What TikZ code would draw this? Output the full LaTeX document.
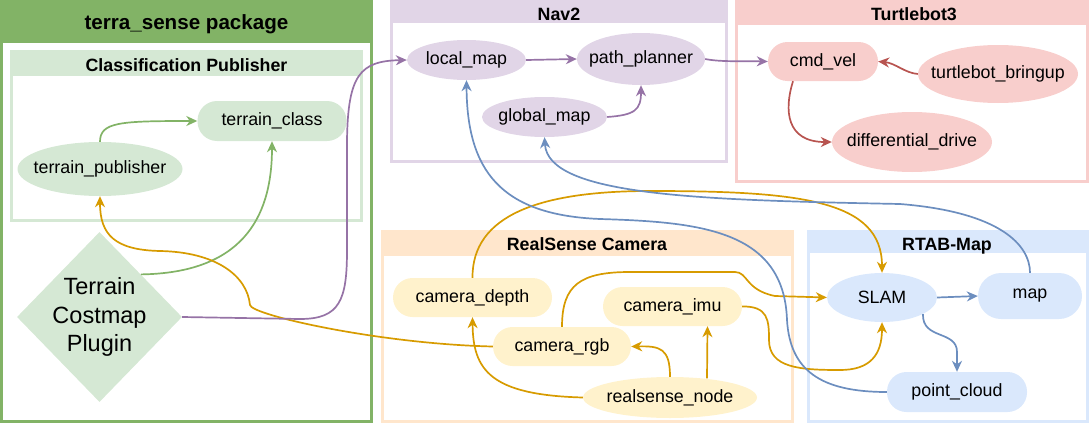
\documentclass[tikz,border=0pt]{standalone}
\usepackage{fontspec}
\setmainfont{Liberation Sans}
\usepackage{tikz}
\usetikzlibrary{shapes.geometric,arrows.meta,calc}

\definecolor{greenfill}{HTML}{D5E8D4}
\definecolor{greenline}{HTML}{82B366}
\definecolor{purplefill}{HTML}{E1D5E7}
\definecolor{purpleline}{HTML}{9673A6}
\definecolor{redfill}{HTML}{F8CECC}
\definecolor{redline}{HTML}{B85450}
\definecolor{orangefill}{HTML}{FFE6CC}
\definecolor{orangeline}{HTML}{D79B00}
\definecolor{yellowfill}{HTML}{FFF2CC}
\definecolor{bluefill}{HTML}{DAE8FC}
\definecolor{blueline}{HTML}{6C8EBF}

\newcommand{\topicfont}{\fontsize{17.8}{21.4}\selectfont}
\newcommand{\lanefont}{\bfseries\fontsize{17.8}{21.4}\selectfont}
\newcommand{\pkgfont}{\bfseries\fontsize{20.6}{24.7}\selectfont}
\newcommand{\pluginfont}{\fontsize{23.5}{28.5}\selectfont}

\tikzstyle{lane} = [line width=3pt]
\tikzstyle{lanetitle} = [font=\lanefont, anchor=base]
\tikzstyle{topic} = [rectangle, rounded corners=19.5pt, inner sep=0pt, font=\topicfont, minimum height=39pt]
\tikzstyle{proc} = [ellipse, inner xsep=-12pt, inner ysep=0pt, font=\topicfont]
\tikzstyle{plugin} = [diamond, fill=greenfill, inner sep=-12pt, align=center, font=\pluginfont, minimum width=165pt, minimum height=170pt]
\tikzstyle{flow} = [-{Stealth[length=11pt, width=10pt, inset=3.5pt]}, line width=1.7pt]

\begin{document}
\begin{tikzpicture}[x=1pt, y=-1pt]
\useasboundingbox (0,0) rectangle (1089,423);

%% Containers %%
\draw[lane, draw=greenline] (1.5,1.5) rectangle (371.5,421.5);
\fill[greenline] (0,0) rectangle (373,43);
\node[lanetitle, font=\pkgfont] (terra_sense) at (186.5,29.5) {terra\_sense package};

\draw[lane, draw=greenfill] (11.5,51.5) rectangle (361.5,220.5);
\fill[greenfill] (10,50) rectangle (363,76);
\node[lanetitle] (classification) at (186.5,71) {Classification Publisher};

\draw[lane, draw=purplefill] (391.5,1.5) rectangle (726.5,161.5);
\fill[purplefill] (390,0) rectangle (728,23);
\node[lanetitle] (nav2) at (559,20) {Nav2};

\draw[lane, draw=redfill] (736.5,1.5) rectangle (1087.5,181.5);
\fill[redfill] (735,0) rectangle (1089,25);
\node[lanetitle] (turtlebot3) at (914,20.5) {Turtlebot3};

\draw[lane, draw=orangefill] (382.5,231.5) rectangle (792.5,421.5);
\fill[orangefill] (381,230) rectangle (794,256);
\node[lanetitle] (realsense) at (587,250.5) {RealSense Camera};

\draw[lane, draw=bluefill] (808.5,231.5) rectangle (1087.5,421.5);
\fill[bluefill] (807,230) rectangle (1089,253);
\node[lanetitle] (rtabmap) at (947,250) {RTAB-Map};

%% terra_sense nodes %%
\node[topic, fill=greenfill, minimum width=149pt, minimum height=40pt] (terrain_class) at (272,121) {terrain\_class};
\node[proc, fill=greenfill, minimum width=165pt, minimum height=54pt] (terrain_publisher) at (100,169) {terrain\_publisher};
\node[plugin] (costmap_plugin) at (99.5,317) {Terrain\\Costmap\\Plugin};

%% Nav2 nodes %%
\node[proc, fill=purplefill, minimum width=119pt, minimum height=40pt] (local_map) at (466.5,60) {local\_map};
\node[proc, fill=purplefill, minimum width=128pt, minimum height=52pt] (path_planner) at ($(local_map)+(174.5,-1)$) {path\_planner};
\node[proc, fill=purplefill, minimum width=125pt, minimum height=40pt] (global_map) at (544.5,117) {global\_map};

%% Turtlebot3 nodes %%
\node[topic, fill=redfill, minimum width=110pt] (cmd_vel) at (823,61.5) {cmd\_vel};
\node[proc, fill=redfill, minimum width=160pt, minimum height=58pt] (turtlebot_bringup) at (998,74) {turtlebot\_bringup};
\node[proc, fill=redfill, minimum width=160pt, minimum height=60pt] (differential_drive) at (912,142) {differential\_drive};

%% RealSense nodes %%
\node[topic, fill=yellowfill, minimum width=159pt] (camera_depth) at (472.5,297.5) {camera\_depth};
\node[topic, fill=yellowfill, minimum width=138pt] (camera_rgb) at ($(camera_depth)+(89.5,49)$) {camera\_rgb};
\node[topic, fill=yellowfill, minimum width=139pt] (camera_imu) at (672.5,306.5) {camera\_imu};
\node[proc, fill=yellowfill, minimum width=174pt, minimum height=41pt] (realsense_node) at (670,397.5) {realsense\_node};

%% RTAB-Map nodes %%
\node[proc, fill=bluefill, minimum width=110pt, minimum height=49pt] (SLAM) at (882,297.5) {SLAM};
\node[topic, fill=bluefill, minimum width=104pt, minimum height=46pt, rounded corners=23pt] (map) at (1030,296) {map};
\node[topic, fill=bluefill, minimum width=140pt, minimum height=40pt] (point_cloud) at (957,392) {point\_cloud};

%% Forbindelser %%
% green
\draw[flow, greenline] (terrain_publisher.north) .. controls (100,122) and (120,121) .. (terrain_class.west);
\draw[flow, greenline] (costmap_plugin.north east) .. controls (240,273) and (272,220) .. (terrain_class.south);

% orange
\draw[flow, orangeline] (camera_rgb.west) .. controls (380,344) and (251,315) .. (250,305) .. controls (247,275) and (215,252) .. (160,251) .. controls (115,250) and (100,235) .. (terrain_publisher.south);
\draw[flow, orangeline] (camera_depth.north) .. controls (472,215) and (540,191) .. (650,191) .. controls (800,191) and (882,200) .. (SLAM.north);
\draw[flow, orangeline] (camera_rgb.north) .. controls (562,285) and (580,272) .. (630,272) -- (735,272) .. controls (748,272) and (745,290) .. (775,296) -- (SLAM.west);
\draw[flow, orangeline] (camera_imu.east) .. controls (768,306) and (769,320) .. (769,340) .. controls (769,368) and (800,370) .. (840,370) .. controls (870,370) and (882,355) .. (SLAM.south);
\draw[flow, orangeline] (realsense_node.west) .. controls (490,395) and (473,370) .. (camera_depth.south);
\draw[flow, orangeline] (realsense_node.north) .. controls (670,348) and (660,346) .. (camera_rgb.east);
\draw[flow, orangeline] ($(realsense_node.north)+(37,1.5)$) -- ($(camera_imu.south)+(35,0)$);

% purple
\draw[flow, purpleline] (costmap_plugin.east) -- (300,319) .. controls (340,319) and (347,300) .. (347,250) -- (347,140) .. controls (348,75) and (360,61) .. (local_map.west);
\draw[flow, purpleline] (local_map.east) -- (path_planner.west);
\draw[flow, purpleline] (global_map.east) .. controls (635,115) and (641,110) .. (path_planner.south);
\draw[flow, purpleline] (path_planner.east) .. controls (720,62) and (740,61) .. (cmd_vel.west);

% red
\draw[flow, redline] (turtlebot_bringup.west) .. controls (905,73) and (895,63) .. (cmd_vel.east);
\draw[flow, redline] ($(cmd_vel.south)+(-30,0)$) .. controls (784,110) and (786,142) .. (differential_drive.west);

% blue
\draw[flow, blueline] (SLAM.east) -- (map.west);
\draw[flow, blueline] (SLAM.-22) .. controls (922,340) and (957,330) .. (957,352) -- (point_cloud.north);
\draw[flow, blueline] (map.north) .. controls (1030,245) and (1000,212) .. (900,204) .. controls (700,200) and (548,196) .. (global_map.south);
\draw[flow, blueline] (point_cloud.west) .. controls (820,392) and (790,370) .. (787,320) .. controls (784,230) and (700,222) .. (600,219) .. controls (500,215) and (467,170) .. (local_map.south);

\end{tikzpicture}
\end{document}
